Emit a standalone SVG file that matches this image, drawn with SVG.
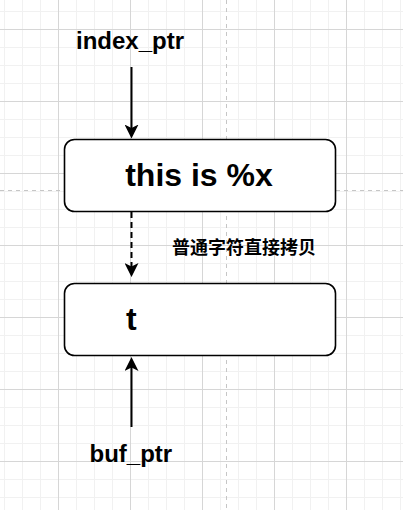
<svg xmlns="http://www.w3.org/2000/svg" width="403" height="510" viewBox="0 0 403 510">
  <style>
    .node { fill: #ffffff; stroke: #000000; stroke-width: 1.6; }
    .lbl { font-family: "Liberation Sans", Arial, sans-serif; font-weight: bold; fill: #000000; }
    .cjk { font-family: "Liberation Sans", "Noto Sans CJK SC", sans-serif; font-weight: bold; fill: #000000; }
    .edge { stroke: #000000; stroke-width: 2; fill: none; }
    .guide { stroke: #c6c6c6; stroke-width: 1; stroke-dasharray: 4 4; fill: none; }
  </style>
  <defs>
    <pattern id="grid" x="58" y="29" width="72" height="72" patternUnits="userSpaceOnUse">
      <rect x="18" y="0" width="1" height="72" fill="#f1f1f1"/>
      <rect x="36" y="0" width="1" height="72" fill="#f1f1f1"/>
      <rect x="54" y="0" width="1" height="72" fill="#f1f1f1"/>
      <rect x="0" y="18" width="72" height="1" fill="#f1f1f1"/>
      <rect x="0" y="36" width="72" height="1" fill="#f1f1f1"/>
      <rect x="0" y="54" width="72" height="1" fill="#f1f1f1"/>
      <rect x="0" y="0" width="1" height="72" fill="#d6d6d6"/>
      <rect x="0" y="0" width="72" height="1" fill="#d6d6d6"/>
    </pattern>
    <marker id="arrow" viewBox="0 0 14 14" refX="10" refY="7" markerWidth="14" markerHeight="14" markerUnits="userSpaceOnUse" orient="auto">
      <path d="M0,0 L14,7 L0,14 L3.5,7 Z" fill="#000000"/>
    </marker>
  </defs>

  <rect x="0" y="0" width="403" height="510" fill="#ffffff"/>
  <rect x="0" y="0" width="403" height="510" fill="url(#grid)"/>
  <g id="guides">
    <line class="guide" x1="226.5" y1="0" x2="226.5" y2="510"/>
    <line class="guide" x1="0" y1="190.5" x2="403" y2="190.5"/>
  </g>

  <g id="connectors">
    <line class="edge" x1="131.5" y1="67" x2="131.5" y2="134.5" marker-end="url(#arrow)"/>
    <line class="edge" x1="131.5" y1="212" x2="131.5" y2="273" stroke-dasharray="6 4" marker-end="url(#arrow)"/>
    <line class="edge" x1="131.5" y1="427" x2="131.5" y2="361" marker-end="url(#arrow)"/>
  </g>

  <g id="label-index-ptr">
    <text class="lbl" x="130" y="49" font-size="24" text-anchor="middle">index_ptr</text>
  </g>

  <g id="node-format">
    <rect class="node" x="64.5" y="139.5" width="271" height="72" rx="10" ry="10"/>
    <text class="lbl" x="199" y="186" font-size="32" text-anchor="middle">this is %x</text>
  </g>

  <g id="label-copy">
    <text class="cjk" x="172" y="253.5" font-size="18">普通字符直接拷贝</text>
  </g>

  <g id="node-buf">
    <rect class="node" x="64.5" y="283.5" width="271" height="72" rx="10" ry="10"/>
    <text class="lbl" x="126" y="330" font-size="32">t</text>
  </g>

  <g id="label-buf-ptr">
    <text class="lbl" x="130.8" y="462" font-size="24" text-anchor="middle">buf_ptr</text>
  </g>
</svg>
